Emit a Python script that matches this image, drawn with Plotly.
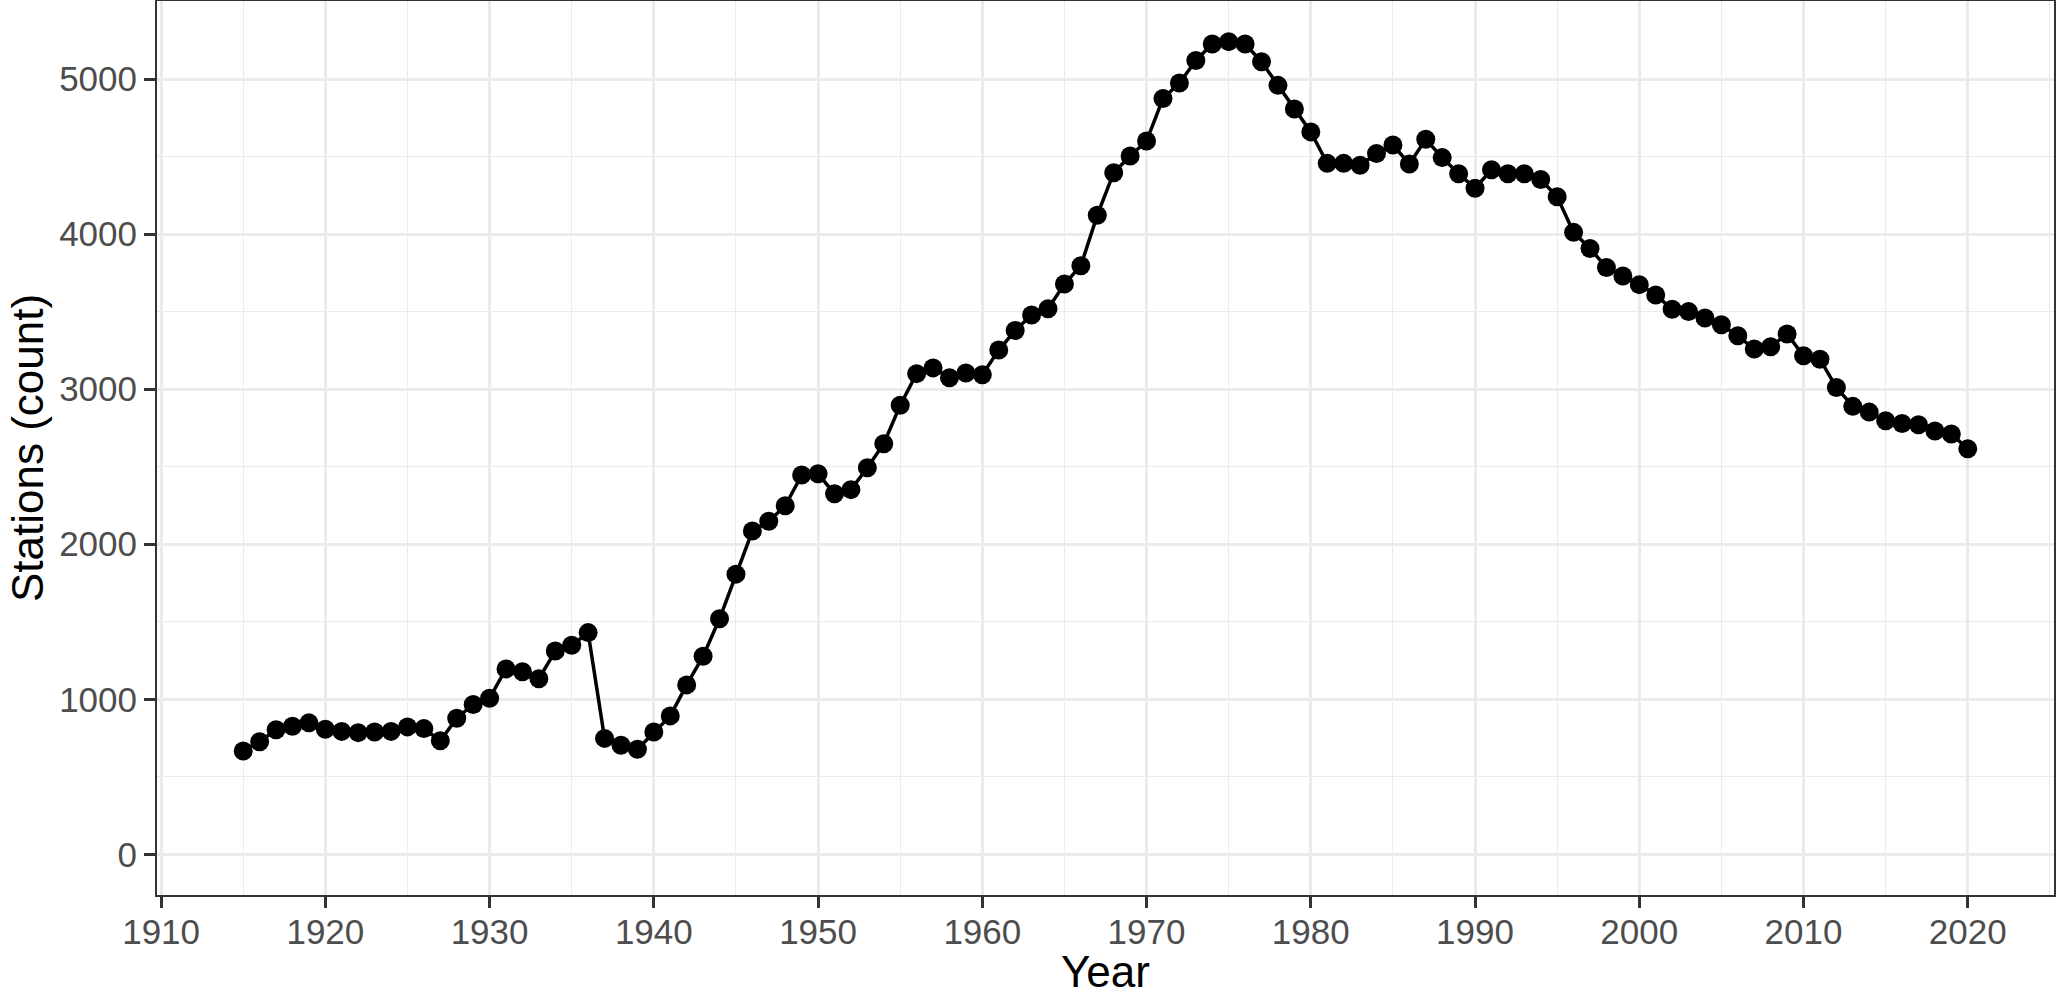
import plotly.graph_objects as go

# years on the x axis
years = list(range(1915, 2021))

# station counts, one per year
stations = [
    667, 726, 804, 826, 848,                                   # 1915-1919
    807, 793, 785, 789, 793, 822, 811, 733, 878, 967,          # 1920s
    1007, 1196, 1178, 1133, 1311, 1348, 1430, 748, 704, 678,   # 1930s
    789, 893, 1093, 1278, 1519, 1807, 2085, 2148, 2248, 2446,  # 1940s
    2454, 2326, 2352, 2493, 2648, 2896, 3100, 3137, 3074, 3104,  # 1950s
    3093, 3252, 3378, 3478, 3519, 3678, 3796, 4122, 4396, 4504,  # 1960s
    4600, 4874, 4974, 5119, 5226, 5241, 5226, 5111, 4959, 4807,  # 1970s
    4659, 4456, 4456, 4444, 4519, 4574, 4452, 4611, 4493, 4389,  # 1980s
    4296, 4415, 4389, 4389, 4352, 4241, 4011, 3907, 3785, 3730,  # 1990s
    3674, 3607, 3515, 3500, 3459, 3415, 3344, 3259, 3274, 3356,  # 2000s
    3215, 3193, 3011, 2889, 2852, 2796, 2778, 2770, 2730, 2711,  # 2010s
    2615,                                                        # 2020
]

x_ticks = [1910, 1920, 1930, 1940, 1950, 1960, 1970, 1980, 1990, 2000, 2010, 2020]
y_ticks = [0, 1000, 2000, 3000, 4000, 5000]

FONT = "Liberation Sans, Arial, Helvetica, sans-serif"
GRID = "#EBEBEB"
DARK = "#333333"

fig = go.Figure()

fig.add_trace(
    go.Scatter(
        x=years, y=stations,
        mode="lines+markers",
        line=dict(color="black", width=3.5),
        marker=dict(color="black", size=19),
        showlegend=False,
    )
)

axis_style = dict(
    showline=True, mirror=True, linecolor=DARK, linewidth=2,
    ticks="outside", ticklen=11, tickwidth=2.5, tickcolor=DARK,
    tickfont=dict(family=FONT, size=35, color="#4D4D4D"),
    showgrid=True, gridcolor=GRID, gridwidth=2.8,
    zeroline=False, automargin=False,
)

fig.update_xaxes(
    range=[1909.75, 2025.25],
    tickvals=x_ticks,
    ticklabelstandoff=-6,
    minor=dict(dtick=5, tick0=1910, showgrid=True, gridcolor=GRID, gridwidth=1.4, ticks=""),
    title=dict(text="Year", font=dict(family=FONT, size=44, color="black"), standoff=21),
    **axis_style,
)

fig.update_yaxes(
    range=[-262, 5503],
    tickvals=y_ticks,
    minor=dict(dtick=500, tick0=0, showgrid=True, gridcolor=GRID, gridwidth=1.4, ticks=""),
    title=dict(text="Stations (count)", font=dict(family=FONT, size=44, color="black"), standoff=2),
    **axis_style,
)

fig.update_layout(
    width=2056, height=996,
    margin=dict(l=157, r=2, t=1, b=101),
    paper_bgcolor="white", plot_bgcolor="white",
)

# drop the default page margin so the figure sits at the window's corner
fig.write_html(
    "out.html",
    config={"displayModeBar": False},
    post_script="document.body.style.margin='0';",
)
